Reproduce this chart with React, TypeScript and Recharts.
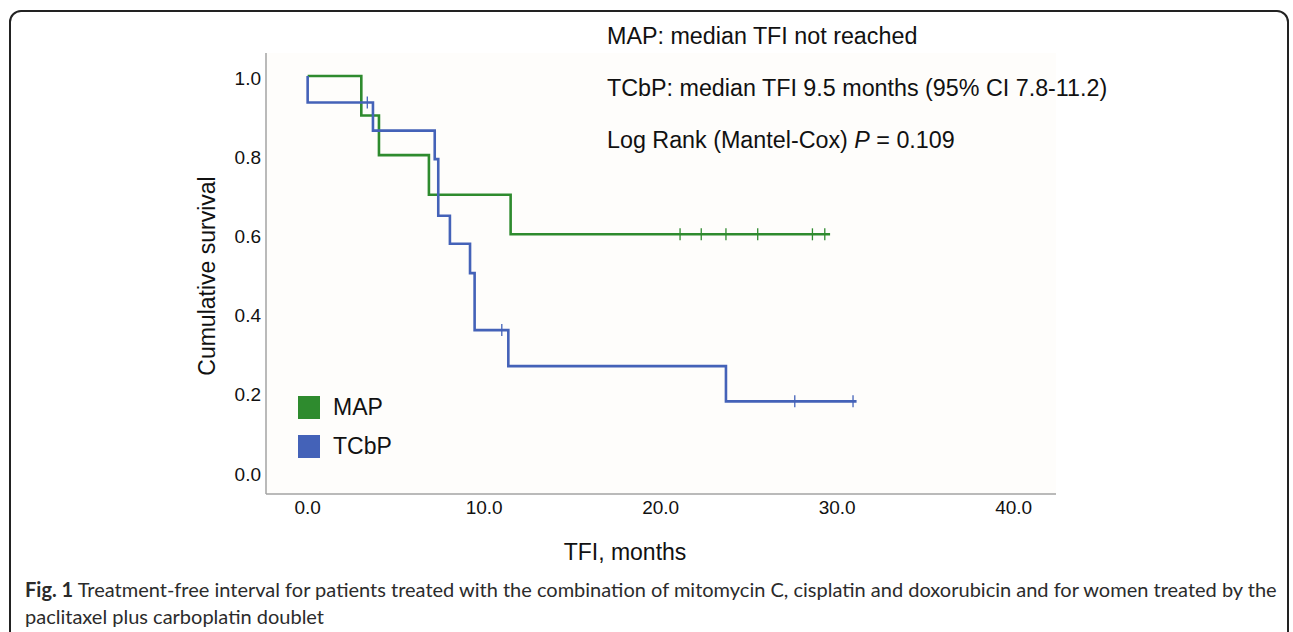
import { ComposedChart, Line, Scatter, XAxis, YAxis } from "recharts";

const GREEN = "#2e8b2e";
const BLUE = "#4462b8";

// Kaplan-Meier steps
const MAP_T = [0, 3.04, 4.04, 6.87, 11.5, 29.6];
const MAP_S = [1.0, 0.9, 0.8, 0.7, 0.6, 0.6];
const MAP_CENSOR_T = [21.1, 22.3, 23.7, 25.5, 28.6, 29.3];
const MAP_CENSOR_S = [0.6, 0.6, 0.6, 0.6, 0.6, 0.6];

const TCBP_T = [0, 0, 3.7, 7.2, 7.4, 8.06, 9.2, 9.46, 11.37, 23.7, 31.1];
const TCBP_S = [1.0, 0.933, 0.862, 0.79, 0.647, 0.576, 0.502, 0.358, 0.267, 0.178, 0.178];
const TCBP_CENSOR_T = [3.38, 11.0, 27.6, 30.9];
const TCBP_CENSOR_S = [0.933, 0.358, 0.178, 0.178];

const X_TICKS = [0, 10, 20, 30, 40];
const Y_TICKS = [0, 0.2, 0.4, 0.6, 0.8, 1.0];

const SERIES = [
  { name: "MAP", color: GREEN },
  { name: "TCbP", color: BLUE },
];

const NOTES = [
  "MAP: median TFI not reached",
  "TCbP: median TFI 9.5 months (95% CI 7.8-11.2)",
];

const zip = (t: number[], s: number[]) => t.map((v, i) => ({ t: v, s: s[i] }));

const mapData = zip(MAP_T, MAP_S);
const tcbpData = zip(TCBP_T, TCBP_S);
const mapCensor = zip(MAP_CENSOR_T, MAP_CENSOR_S);
const tcbpCensor = zip(TCBP_CENSOR_T, TCBP_CENSOR_S);

const censorMark = (color: string) => (props: any) => {
  const { cx, cy } = props;
  return <line x1={cx} x2={cx} y1={cy - 6} y2={cy + 6} stroke={color} strokeWidth={1.3} />;
};

const FONT = "'Liberation Sans', Arial, sans-serif";

export default function App() {
  return (
    <div style={{ position: "absolute", left: 0, top: 0, width: 1293, height: 632, background: "#fff", overflow: "hidden" }}>
      <div
        style={{
          position: "absolute",
          left: 9,
          top: 10,
          width: 1280,
          height: 700,
          border: "2px solid #222",
          borderRadius: 12,
          boxSizing: "border-box",
        }}
      />
      <div style={{ position: "absolute", left: 0, top: 0 }}>
        <ComposedChart width={1293} height={632} margin={{ top: 53, right: 237, bottom: 108, left: 206 }}>
          <rect x={266} y={53} width={790} height={441} fill="#fefdfb" />
          <XAxis
            dataKey="t"
            type="number"
            domain={[-2.36, 42.4]}
            ticks={X_TICKS}
            allowDataOverflow
            tickLine={false}
            tickSize={0}
            height={30}
            axisLine={{ stroke: "#a3a3a3", strokeWidth: 1.5 }}
            tick={{ fill: "#111", fontSize: 19, fontFamily: FONT }}
            tickFormatter={(v: number) => v.toFixed(1)}
            tickMargin={7}
          />
          <YAxis
            dataKey="s"
            type="number"
            domain={[-0.056, 1.058]}
            ticks={Y_TICKS}
            allowDataOverflow
            tickLine={false}
            tickSize={0}
            width={60}
            axisLine={{ stroke: "#a3a3a3", strokeWidth: 1.5 }}
            tick={{ fill: "#111", fontSize: 19, fontFamily: FONT, dy: 2 }}
            tickFormatter={(v: number) => v.toFixed(1)}
            tickMargin={5}
          />
          <Line
            data={mapData}
            dataKey="s"
            name="MAP"
            type="stepAfter"
            stroke={GREEN}
            strokeWidth={2.6}
            dot={false}
            isAnimationActive={false}
          />
          <Line
            data={tcbpData}
            dataKey="s"
            name="TCbP"
            type="stepAfter"
            stroke={BLUE}
            strokeWidth={2.6}
            dot={false}
            isAnimationActive={false}
          />
          <Scatter data={mapCensor} dataKey="s" shape={censorMark(GREEN)} isAnimationActive={false} />
          <Scatter data={tcbpCensor} dataKey="s" shape={censorMark(BLUE)} isAnimationActive={false} />
        </ComposedChart>
      </div>
      <div style={{ position: "absolute", left: 298, top: 388, fontFamily: FONT, fontSize: 23, color: "#111" }}>
        {SERIES.map((p) => (
          <div key={p.name} style={{ display: "flex", alignItems: "center", height: 39 }}>
            <div style={{ width: 22, height: 23, background: p.color, marginRight: 13 }} />
            <span>{p.name}</span>
          </div>
        ))}
      </div>
      <div style={{ position: "absolute", left: 607, top: 22, fontFamily: FONT, fontSize: 23.3, color: "#111", lineHeight: "28px" }}>
        <div>{NOTES[0]}</div>
        <div style={{ marginTop: 24 }}>{NOTES[1]}</div>
        <div style={{ marginTop: 24 }}>
          Log Rank (Mantel-Cox) <i>P</i> = 0.109
        </div>
      </div>
      <div
        style={{
          position: "absolute",
          left: 625,
          top: 552,
          transform: "translate(-50%, -50%)",
          fontFamily: FONT,
          fontSize: 23,
          color: "#111",
          whiteSpace: "nowrap",
        }}
      >
        TFI, months
      </div>
      <div
        style={{
          position: "absolute",
          left: 207,
          top: 276,
          transform: "translate(-50%, -50%) rotate(-90deg)",
          fontFamily: FONT,
          fontSize: 23,
          color: "#111",
          whiteSpace: "nowrap",
        }}
      >
        Cumulative survival
      </div>
      <div
        style={{
          position: "absolute",
          left: 25,
          top: 576,
          fontFamily: "Lato, 'Open Sans', sans-serif",
          fontSize: 20,
          lineHeight: "27px",
          color: "#2b2b2b",
          whiteSpace: "nowrap",
        }}
      >
        <div>
          <b>Fig. 1</b> Treatment-free interval for patients treated with the combination of mitomycin C, cisplatin and
          doxorubicin and for women treated by the
        </div>
        <div>paclitaxel plus carboplatin doublet</div>
      </div>
    </div>
  );
}
